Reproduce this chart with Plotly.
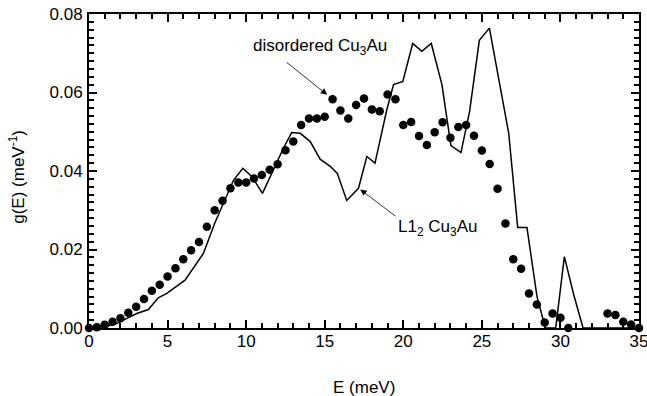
import plotly.graph_objects as go

# disordered Cu3Au (dots), every 0.5 meV
dis_E = [0, 0.5, 1.0, 1.5, 2.0, 2.5, 3.0, 3.5, 4.0, 4.5, 5.0, 5.5, 6.0, 6.5, 7.0, 7.5,
         8.0, 8.5, 9.0, 9.5, 10.0, 10.5, 11.0, 11.5, 12.0, 12.5, 13.0, 13.5, 14.0, 14.5,
         15.0, 15.5, 16.0, 16.5, 17.0, 17.5, 18.0, 18.5, 19.0, 19.5, 20.0, 20.5, 21.0,
         21.5, 22.0, 22.5, 23.0, 23.5, 24.0, 24.5, 25.0, 25.5, 26.0, 26.5, 27.0, 27.5,
         28.0, 28.5, 29.0, 29.5, 30.0, 30.5, 31.0, 31.5, 32.0, 32.5, 33.0, 33.5, 34.0,
         34.5, 35.0]
dis_g = [0.0, 0.0002, 0.0008, 0.0016, 0.0025, 0.0039, 0.0054, 0.0074, 0.0095, 0.011,
         0.0131, 0.0152, 0.0175, 0.0198, 0.0219, 0.0258, 0.030, 0.0324, 0.0356, 0.0371,
         0.0371, 0.0381, 0.039, 0.0403, 0.0417, 0.0453, 0.0475, 0.0517, 0.0534, 0.0534,
         0.0538, 0.0583, 0.0554, 0.0534, 0.0568, 0.0585, 0.0557, 0.0552, 0.0595, 0.0583,
         0.0517, 0.0525, 0.0489, 0.0466, 0.0499, 0.0524, 0.0485, 0.0512, 0.0517, 0.049,
         0.0452, 0.0418, 0.0355, 0.0266, 0.0175, 0.0151, 0.0088, 0.006, 0.0014, 0.0037,
         0.0026, 0.0, None, None, None, None, 0.0037, 0.0033, 0.0016, 0.0009, 0.0]

# L1_2 Cu3Au (line)
l12_E = [0, 1.0, 1.67, 3.04, 3.78, 4.41, 4.95, 6.11, 7.28, 8.0, 9.2, 9.79, 10.36, 11.04,
         12.37, 12.9, 13.44, 14.08, 14.71, 15.35, 15.8, 16.4, 17.15, 17.68, 18.2, 18.95,
         19.38, 19.97, 20.6, 21.18, 21.78, 22.46, 23.03, 23.67, 24.22, 24.84, 25.48,
         26.07, 26.71, 27.28, 27.87, 28.51, 29.04, 29.7, 30.25, 30.85, 31.44, 35.0]
l12_g = [0.0, 0.0003, 0.001, 0.0037, 0.0047, 0.0077, 0.0088, 0.0122, 0.019, 0.0267,
         0.0377, 0.0407, 0.0386, 0.0343, 0.0458, 0.0498, 0.0496, 0.0475, 0.043, 0.0412,
         0.0394, 0.0325, 0.0356, 0.0437, 0.042, 0.0556, 0.062, 0.0628, 0.0725, 0.0705,
         0.0725, 0.062, 0.0465, 0.0447, 0.0552, 0.0733, 0.0764, 0.0632, 0.0496, 0.0256,
         0.0256, 0.008, 0.0, 0.0, 0.0182, 0.0084, 0.0, 0.0]

x_ticks = [0, 5, 10, 15, 20, 25, 30, 35]
y_ticks = [0.00, 0.02, 0.04, 0.06, 0.08]

FONT = "Liberation Sans, Arial, Helvetica, sans-serif"
FS = 17

fig = go.Figure()
fig.add_trace(go.Scatter(x=l12_E, y=l12_g, mode="lines",
                         line=dict(color="black", width=1.5), cliponaxis=True,
                         showlegend=False))
fig.add_trace(go.Scatter(x=dis_E, y=dis_g, mode="markers",
                         marker=dict(color="black", size=8.5), cliponaxis=False,
                         showlegend=False))

common = dict(showline=True, linecolor="black", linewidth=2,
              ticks="inside", tickcolor="black", tickwidth=1.5, ticklen=8,
              showgrid=False, zeroline=False, automargin=False,
              ticklabeloverflow="allow",
              tickfont=dict(family=FONT, size=FS, color="black"))
xminor = dict(dtick=1, ticks="inside", ticklen=5, tickcolor="black", tickwidth=1.5,
              showgrid=False)
yminor = dict(dtick=0.002, ticks="inside", ticklen=5, tickcolor="black", tickwidth=1.5,
              showgrid=False)

fig.update_layout(
    xaxis=dict(range=[0, 35], tickvals=x_ticks, minor=xminor, ticklabelstandoff=-3, **common),
    yaxis=dict(range=[0, 0.08], tickvals=y_ticks, tickformat=".2f", minor=yminor,
               ticklabelstandoff=1, **common),
    xaxis2=dict(range=[0, 35], tickvals=x_ticks, minor=xminor, overlaying="x",
                side="top", showticklabels=False, anchor="y", **common),
    yaxis2=dict(range=[0, 0.08], tickvals=y_ticks, minor=yminor, overlaying="y",
                side="right", showticklabels=False, anchor="x", **common),
)
# invisible trace to activate mirrored axes
fig.add_trace(go.Scatter(x=[0], y=[0], xaxis="x2", yaxis="y2", mode="markers",
                         marker=dict(opacity=0), showlegend=False, hoverinfo="skip"))

fig.add_annotation(xref="paper", yref="paper", x=-0.13, y=0.48,
                   text="g(E) (meV<sup>-1</sup>)", textangle=-90, showarrow=False,
                   xanchor="center", yanchor="middle",
                   font=dict(family=FONT, size=FS, color="black"))
fig.add_annotation(xref="paper", yref="paper", x=0.5, y=-0.19, text="E (meV)",
                   showarrow=False, xanchor="center", yanchor="middle",
                   font=dict(family=FONT, size=FS, color="black"))

fig.add_annotation(x=14.7, y=0.0716, text="disordered Cu<sub>3</sub>Au", showarrow=False,
                   font=dict(family=FONT, size=FS, color="black"))
fig.add_annotation(x=15.16, y=0.0594, ax=12.48, ay=0.068, axref="x", ayref="y",
                   text="", showarrow=True, arrowhead=2, arrowsize=1.6, arrowwidth=0.8,
                   arrowcolor="black")
fig.add_annotation(x=22.2, y=0.0255, text="L1<sub>2</sub> Cu<sub>3</sub>Au", showarrow=False,
                   font=dict(family=FONT, size=FS, color="black"))
fig.add_annotation(x=17.26, y=0.0353, ax=19.6, ay=0.0282, axref="x", ayref="y",
                   text="", showarrow=True, arrowhead=2, arrowsize=1.6, arrowwidth=0.8,
                   arrowcolor="black")

fig.update_layout(width=647, height=396, margin=dict(l=89, r=8, t=14, b=68),
                  plot_bgcolor="white", paper_bgcolor="white",
                  font=dict(family=FONT, color="black"))

fig.write_html("out.html", config={"displayModeBar": False},
               post_script="document.body.style.margin='0';"
                           "document.body.style.overflow='hidden';")
